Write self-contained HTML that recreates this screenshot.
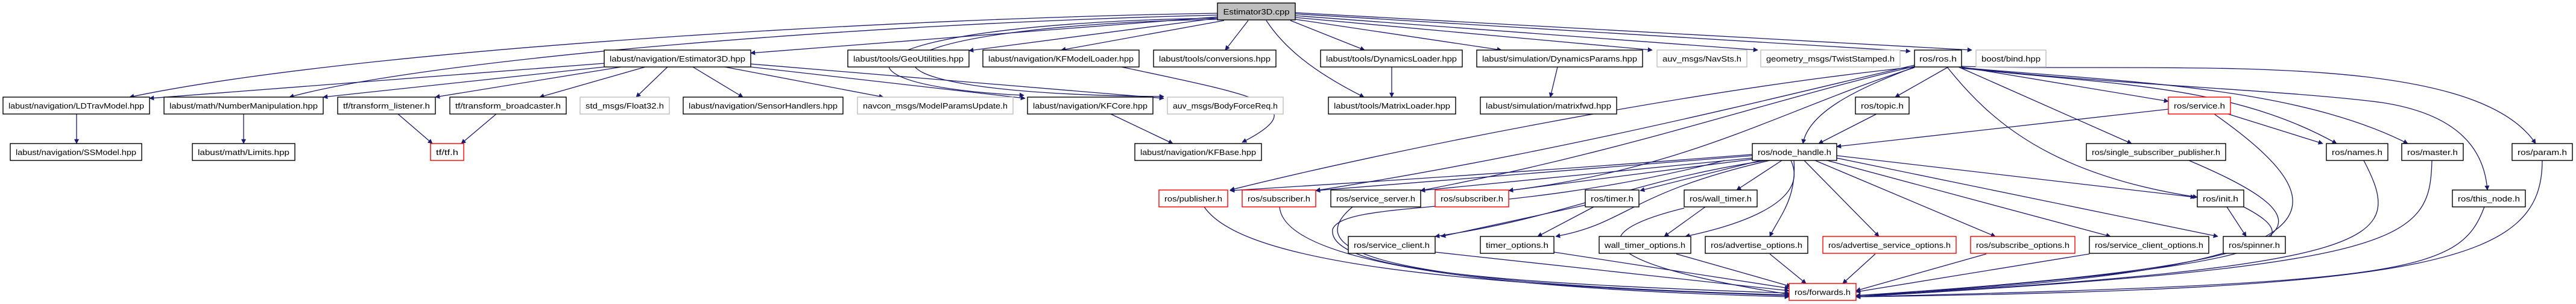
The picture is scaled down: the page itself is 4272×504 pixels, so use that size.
<!DOCTYPE html>
<html><head><meta charset="utf-8"><style>
html,body{margin:0;padding:0;background:#fff;}
svg{display:block;}
text{font-family:"Liberation Sans",sans-serif;font-size:13px;fill:#000;}
.e{fill:none;stroke:#191970;stroke-width:1.3;marker-end:url(#a);}
.n rect{fill:#fff;stroke:#000;stroke-width:1.4;}
.g rect{fill:#fff;stroke:#bfbfbf;stroke-width:1.4;}
.r rect{fill:#fff;stroke:#ff0000;stroke-width:1.4;}
</style></head><body>
<svg width="4272" height="504" viewBox="0 0 4272 504" xmlns="http://www.w3.org/2000/svg">
<defs><marker id="a" viewBox="0 0 10 10" refX="9" refY="5" markerWidth="10" markerHeight="8" markerUnits="userSpaceOnUse" orient="auto"><path d="M0,0 L10,5 L0,10 z" fill="#191970"/></marker></defs>
<g>
<!-- cpp edges -->
<path class="e" d="M2019,22 C1500,30 600,80 215,161"/>
<path class="e" d="M2019,25 C1400,40 700,100 480,161"/>
<path class="e" d="M2019,28 L1245,88"/>
<path class="e" d="M2019,30 L1607,84"/>
<path class="e" d="M2030,34 L1760,83"/>
<path class="e" d="M2070,34 L2032,83"/>
<path class="e" d="M2100,34 C2130,80 2180,120 2262,161"/>
<path class="e" d="M2140,34 L2263,83"/>
<path class="e" d="M2148,32 L2490,83"/>
<path class="e" d="M2148,29 L2740,83"/>
<path class="e" d="M2148,26 L2915,83"/>
<path class="e" d="M2148,23 L3168,85"/>
<path class="e" d="M2148,21 L3270,83"/>
<path class="e" d="M2019,30 C1400,40 1330,140 1698,158"/>
<path class="e" d="M2019,32 C1400,45 1330,155 1930,160"/>
<path class="e" d="M1860,111 C2090,160 2180,175 2060,236"/>
<!-- E3D hpp -->
<path class="e" d="M1002,105 L248,163"/>
<path class="e" d="M1002,111 L536,161"/>
<path class="e" d="M1030,111 L722,161"/>
<path class="e" d="M1070,111 L895,161"/>
<path class="e" d="M1107,111 L1055,161"/>
<path class="e" d="M1149,111 L1232,161"/>
<path class="e" d="M1202,111 L1465,161"/>
<path class="e" d="M1245,111 L1700,163"/>
<path class="e" d="M1245,106 L1930,163"/>
<path class="e" d="M127,189 L127,238"/>
<path class="e" d="M404,189 L404,238"/>
<path class="e" d="M660,189 L717,238"/>
<path class="e" d="M823,189 L765,238"/>
<path class="e" d="M1842,189 L1945,238"/>
<path class="e" d="M2308,111 L2308,161"/>
<path class="e" d="M2583,111 L2571,161"/>
<!-- ros.h -->
<path class="e" d="M3231,111 L3143,161"/>
<path class="e" d="M3175,111 C3100,140 3000,180 2990,238"/>
<path class="e" d="M3253,111 L3596,168"/>
<path class="e" d="M3248,111 L3535,238"/>
<path class="e" d="M3253,113 C3500,140 3700,140 3875,238"/>
<path class="e" d="M3253,112 C3500,135 3800,140 3993,238"/>
<path class="e" d="M3253,110 C3600,120 4100,80 4205,238"/>
<path class="e" d="M3253,112 C3500,140 3800,150 3950,170 C4080,190 4120,250 4125,315"/>
<path class="e" d="M3229,111 C3300,200 3400,290 3644,327"/>
<path class="e" d="M3175,111 C2800,150 2300,250 2040,315"/>
<path class="e" d="M3175,108 C2950,160 2600,250 2182,316"/>
<path class="e" d="M3175,110 C2920,170 2700,250 2356,316"/>
<path class="e" d="M3175,112 C2960,180 2800,280 2502,316"/>
<!-- node_handle -->
<path class="e" d="M2906,258 L2182,316"/>
<path class="e" d="M2906,262 L2356,316"/>
<path class="e" d="M2906,264 L2502,316"/>
<path class="e" d="M2906,256 C2600,280 2300,300 2040,316"/>
<path class="e" d="M2920,266 L2720,316"/>
<path class="e" d="M2955,266 L2880,315"/>
<path class="e" d="M2930,266 C2700,300 2600,360 2380,392"/>
<path class="e" d="M2935,266 C2700,320 2700,370 2580,392"/>
<path class="e" d="M2970,266 C3000,330 2900,370 2795,392"/>
<path class="e" d="M2975,266 C2980,330 2950,360 2935,392"/>
<path class="e" d="M2992,266 L3116,392"/>
<path class="e" d="M3010,266 L3309,392"/>
<path class="e" d="M3030,266 L3500,392"/>
<path class="e" d="M3046,262 L3678,392"/>
<path class="e" d="M3046,258 L3640,327"/>
<path class="e" d="M3112,189 L3016,238"/>
<path class="e" d="M3596,181 L3046,243"/>
<path class="e" d="M3695,189 L3852,238"/>
<!-- to forwards -->
<path class="e" d="M3672,189 C3900,350 3900,450 3078,490"/>
<path class="e" d="M3693,343 L3725,392"/>
<path class="e" d="M3721,343 C3830,400 3800,440 3078,492"/>
<path class="e" d="M3630,266 C3900,380 3850,440 3078,490"/>
<path class="e" d="M3920,266 C3990,400 3960,440 3078,492"/>
<path class="e" d="M4033,266 C4030,400 3990,440 3078,492"/>
<path class="e" d="M4120,343 C4080,450 4000,470 3078,492"/>
<path class="e" d="M4216,266 C4216,430 4050,480 3078,492"/>
<path class="e" d="M3465,421 L3078,484"/>
<path class="e" d="M3294,421 L3078,482"/>
<path class="e" d="M3110,421 L3056,470"/>
<path class="e" d="M2935,421 L2995,470"/>
<path class="e" d="M2780,421 L2970,475"/>
<path class="e" d="M2577,418 L2967,478"/>
<path class="e" d="M2380,418 L2967,482"/>
<path class="e" d="M2643,343 L2550,392"/>
<path class="e" d="M2828,343 L2760,392"/>
<path class="e" d="M2629,340 L2390,392"/>
<path class="e" d="M2793,345 C2650,380 2600,430 2967,488"/>
<path class="e" d="M1997,343 C2050,420 2300,470 2967,490"/>
<path class="e" d="M2122,343 C2130,440 2500,480 2967,492"/>
<path class="e" d="M2243,343 C2150,420 2300,470 2967,489"/>
<path class="e" d="M2860,266 C2500,360 2230,330 2210,380 C2200,450 2500,470 2967,486"/>
</g>
<g class="n"><rect x="2019" y="5" width="129" height="28" style="fill:#bfbfbf"/><text x="2083.5" y="24" text-anchor="middle" textLength="110" lengthAdjust="spacingAndGlyphs">Estimator3D.cpp</text></g>
<g id="nodes"></g>
<!-- row1 -->
<g class="n"><rect x="1002" y="83" width="243" height="28"/><text x="1123.5" y="102" text-anchor="middle" textLength="225" lengthAdjust="spacingAndGlyphs">labust/navigation/Estimator3D.hpp</text></g>
<g class="n"><rect x="1406" y="83" width="201" height="28"/><text x="1506.5" y="102" text-anchor="middle" textLength="183" lengthAdjust="spacingAndGlyphs">labust/tools/GeoUtilities.hpp</text></g>
<g class="n"><rect x="1630" y="83" width="259" height="28"/><text x="1759.5" y="102" text-anchor="middle" textLength="241" lengthAdjust="spacingAndGlyphs">labust/navigation/KFModelLoader.hpp</text></g>
<g class="n"><rect x="1913" y="83" width="203" height="28"/><text x="2014.5" y="102" text-anchor="middle" textLength="185" lengthAdjust="spacingAndGlyphs">labust/tools/conversions.hpp</text></g>
<g class="n"><rect x="2190" y="83" width="235" height="28"/><text x="2307.5" y="102" text-anchor="middle" textLength="217" lengthAdjust="spacingAndGlyphs">labust/tools/DynamicsLoader.hpp</text></g>
<g class="n"><rect x="2449" y="83" width="275" height="28"/><text x="2586.5" y="102" text-anchor="middle" textLength="257" lengthAdjust="spacingAndGlyphs">labust/simulation/DynamicsParams.hpp</text></g>
<g class="g"><rect x="2748" y="83" width="149" height="28"/><text x="2822.5" y="102" text-anchor="middle" textLength="131" lengthAdjust="spacingAndGlyphs">auv_msgs/NavSts.h</text></g>
<g class="g"><rect x="2920" y="83" width="231" height="28"/><text x="3035.5" y="102" text-anchor="middle" textLength="213" lengthAdjust="spacingAndGlyphs">geometry_msgs/TwistStamped.h</text></g>
<g class="n"><rect x="3175" y="83" width="78" height="28"/><text x="3214" y="102" text-anchor="middle" textLength="62" lengthAdjust="spacingAndGlyphs">ros/ros.h</text></g>
<g class="g"><rect x="3277" y="83" width="116" height="28"/><text x="3335" y="102" text-anchor="middle" textLength="98" lengthAdjust="spacingAndGlyphs">boost/bind.hpp</text></g>
<!-- row2 -->
<g class="n"><rect x="5" y="161" width="243" height="28"/><text x="126.5" y="180" text-anchor="middle" textLength="225" lengthAdjust="spacingAndGlyphs">labust/navigation/LDTravModel.hpp</text></g>
<g class="n"><rect x="272" y="161" width="264" height="28"/><text x="404" y="180" text-anchor="middle" textLength="246" lengthAdjust="spacingAndGlyphs">labust/math/NumberManipulation.hpp</text></g>
<g class="n"><rect x="560" y="161" width="162" height="28"/><text x="641" y="180" text-anchor="middle" textLength="144" lengthAdjust="spacingAndGlyphs">tf/transform_listener.h</text></g>
<g class="n"><rect x="746" y="161" width="193" height="28"/><text x="842.5" y="180" text-anchor="middle" textLength="175" lengthAdjust="spacingAndGlyphs">tf/transform_broadcaster.h</text></g>
<g class="g"><rect x="962" y="161" width="148" height="28"/><text x="1036" y="180" text-anchor="middle" textLength="130" lengthAdjust="spacingAndGlyphs">std_msgs/Float32.h</text></g>
<g class="n"><rect x="1133" y="161" width="265" height="28"/><text x="1265.5" y="180" text-anchor="middle" textLength="247" lengthAdjust="spacingAndGlyphs">labust/navigation/SensorHandlers.hpp</text></g>
<g class="g"><rect x="1422" y="161" width="258" height="28"/><text x="1551" y="180" text-anchor="middle" textLength="240" lengthAdjust="spacingAndGlyphs">navcon_msgs/ModelParamsUpdate.h</text></g>
<g class="n"><rect x="1704" y="161" width="208" height="28"/><text x="1808" y="180" text-anchor="middle" textLength="190" lengthAdjust="spacingAndGlyphs">labust/navigation/KFCore.hpp</text></g>
<g class="g"><rect x="1936" y="161" width="192" height="28"/><text x="2032" y="180" text-anchor="middle" textLength="174" lengthAdjust="spacingAndGlyphs">auv_msgs/BodyForceReq.h</text></g>
<g class="n"><rect x="2203" y="161" width="211" height="28"/><text x="2308.5" y="180" text-anchor="middle" textLength="193" lengthAdjust="spacingAndGlyphs">labust/tools/MatrixLoader.hpp</text></g>
<g class="n"><rect x="2455" y="161" width="226" height="28"/><text x="2568" y="180" text-anchor="middle" textLength="208" lengthAdjust="spacingAndGlyphs">labust/simulation/matrixfwd.hpp</text></g>
<g class="n"><rect x="3077" y="161" width="89" height="28"/><text x="3121.5" y="180" text-anchor="middle" textLength="71" lengthAdjust="spacingAndGlyphs">ros/topic.h</text></g>
<g class="r"><rect x="3596" y="161" width="103" height="28"/><text x="3647.5" y="180" text-anchor="middle" textLength="85" lengthAdjust="spacingAndGlyphs">ros/service.h</text></g>
<!-- row3 -->
<g class="n"><rect x="17" y="238" width="218" height="28"/><text x="126" y="257" text-anchor="middle" textLength="200" lengthAdjust="spacingAndGlyphs">labust/navigation/SSModel.hpp</text></g>
<g class="n"><rect x="319" y="238" width="170" height="28"/><text x="404" y="257" text-anchor="middle" textLength="152" lengthAdjust="spacingAndGlyphs">labust/math/Limits.hpp</text></g>
<g class="r"><rect x="714" y="238" width="55" height="28"/><text x="741.5" y="257" text-anchor="middle" textLength="37" lengthAdjust="spacingAndGlyphs">tf/tf.h</text></g>
<g class="n"><rect x="1882" y="238" width="210" height="28"/><text x="1987" y="257" text-anchor="middle" textLength="192" lengthAdjust="spacingAndGlyphs">labust/navigation/KFBase.hpp</text></g>
<g class="n"><rect x="2906" y="238" width="140" height="28"/><text x="2976" y="257" text-anchor="middle" textLength="122" lengthAdjust="spacingAndGlyphs">ros/node_handle.h</text></g>
<g class="n"><rect x="3460" y="238" width="231" height="28"/><text x="3575.5" y="257" text-anchor="middle" textLength="213" lengthAdjust="spacingAndGlyphs">ros/single_subscriber_publisher.h</text></g>
<g class="n"><rect x="3858" y="238" width="102" height="28"/><text x="3909" y="257" text-anchor="middle" textLength="84" lengthAdjust="spacingAndGlyphs">ros/names.h</text></g>
<g class="n"><rect x="3983" y="238" width="102" height="28"/><text x="4034" y="257" text-anchor="middle" textLength="84" lengthAdjust="spacingAndGlyphs">ros/master.h</text></g>
<g class="n"><rect x="4166" y="238" width="100" height="28"/><text x="4216" y="257" text-anchor="middle" textLength="82" lengthAdjust="spacingAndGlyphs">ros/param.h</text></g>
<!-- row4 -->
<g class="r"><rect x="1922" y="315" width="114" height="28"/><text x="1979" y="334" text-anchor="middle" textLength="96" lengthAdjust="spacingAndGlyphs">ros/publisher.h</text></g>
<g class="r"><rect x="2060" y="315" width="122" height="28"/><text x="2121" y="334" text-anchor="middle" textLength="104" lengthAdjust="spacingAndGlyphs">ros/subscriber.h</text></g>
<g class="n"><rect x="2207" y="315" width="149" height="28"/><text x="2281.5" y="334" text-anchor="middle" textLength="131" lengthAdjust="spacingAndGlyphs">ros/service_server.h</text></g>
<g class="r"><rect x="2380" y="315" width="122" height="28"/><text x="2441" y="334" text-anchor="middle" textLength="104" lengthAdjust="spacingAndGlyphs">ros/subscriber.h</text></g>
<g class="n"><rect x="2629" y="315" width="89" height="28"/><text x="2673.5" y="334" text-anchor="middle" textLength="71" lengthAdjust="spacingAndGlyphs">ros/timer.h</text></g>
<g class="n"><rect x="2793" y="315" width="121" height="28"/><text x="2853.5" y="334" text-anchor="middle" textLength="103" lengthAdjust="spacingAndGlyphs">ros/wall_timer.h</text></g>
<g class="n"><rect x="3644" y="315" width="77" height="28"/><text x="3682.5" y="334" text-anchor="middle" textLength="59" lengthAdjust="spacingAndGlyphs">ros/init.h</text></g>
<g class="n"><rect x="4067" y="315" width="121" height="28"/><text x="4127.5" y="334" text-anchor="middle" textLength="103" lengthAdjust="spacingAndGlyphs">ros/this_node.h</text></g>
<!-- row5 -->
<g class="n"><rect x="2236" y="392" width="144" height="28"/><text x="2308" y="411" text-anchor="middle" textLength="126" lengthAdjust="spacingAndGlyphs">ros/service_client.h</text></g>
<g class="n"><rect x="2455" y="392" width="122" height="28"/><text x="2516" y="411" text-anchor="middle" textLength="104" lengthAdjust="spacingAndGlyphs">timer_options.h</text></g>
<g class="n"><rect x="2652" y="392" width="152" height="28"/><text x="2728" y="411" text-anchor="middle" textLength="134" lengthAdjust="spacingAndGlyphs">wall_timer_options.h</text></g>
<g class="n"><rect x="2828" y="392" width="170" height="28"/><text x="2913" y="411" text-anchor="middle" textLength="152" lengthAdjust="spacingAndGlyphs">ros/advertise_options.h</text></g>
<g class="r"><rect x="3023" y="392" width="221" height="28"/><text x="3133.5" y="411" text-anchor="middle" textLength="203" lengthAdjust="spacingAndGlyphs">ros/advertise_service_options.h</text></g>
<g class="r"><rect x="3268" y="392" width="173" height="28"/><text x="3354.5" y="411" text-anchor="middle" textLength="155" lengthAdjust="spacingAndGlyphs">ros/subscribe_options.h</text></g>
<g class="n"><rect x="3465" y="392" width="198" height="28"/><text x="3564" y="411" text-anchor="middle" textLength="180" lengthAdjust="spacingAndGlyphs">ros/service_client_options.h</text></g>
<g class="n"><rect x="3687" y="392" width="103" height="28"/><text x="3738.5" y="411" text-anchor="middle" textLength="85" lengthAdjust="spacingAndGlyphs">ros/spinner.h</text></g>
<!-- row6 -->
<g class="r"><rect x="2967" y="470" width="111" height="28"/><text x="3022.5" y="489" text-anchor="middle" textLength="93" lengthAdjust="spacingAndGlyphs">ros/forwards.h</text></g>
</svg>
</body></html>
